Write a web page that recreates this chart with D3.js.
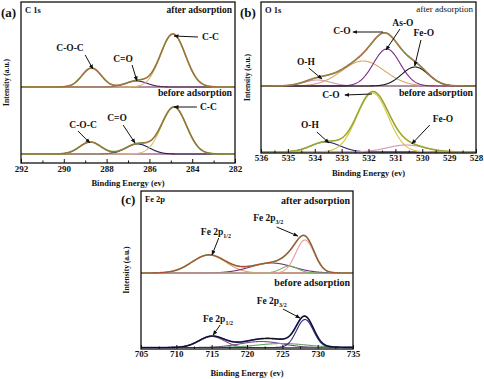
<!DOCTYPE html>
<html><head><meta charset="utf-8">
<script src="https://cdn.jsdelivr.net/npm/d3@7"></script>
<style>
body{margin:0;background:#fff}
svg{display:block}
text{font-family:"Liberation Serif","Times New Roman",serif;font-weight:bold;fill:#111}
</style>
</head><body><svg id="chart" width="484" height="379"></svg>
<script>
// ---------- data (binding energies in eV, intensities in a.u.) ----------
// Panel (a) C 1s
const aTicks = [292, 290, 288, 286, 284, 282];
const aMinor = [291, 289, 287, 285, 283];
const aNames = ["C-O-C", "C=O", "C-C"];
const aAfterOffset = 76;
const aAfterCenters = [288.7, 286.6, 284.9];
const aAfterHeights = [19, 6, 53];
const aAfterWidths = [0.45, 0.5, 0.58];
const aBeforeOffset = 9;
const aBeforeCenters = [288.76, 286.55, 284.85];
const aBeforeHeights = [12, 10, 47];
const aBeforeWidths = [0.5, 0.55, 0.58];

// Panel (b) O 1s
const bTicks = [536, 535, 534, 533, 532, 531, 530, 529, 528];
const bMinor = [535.5, 534.5, 533.5, 532.5, 531.5, 530.5, 529.5, 528.5];
const bAfterNames = ["O-H", "C-O", "As-O", "Fe-O"];
const bAfterOffset = 67;
const bAfterCenters = [533.9, 532.2, 531.32, 530.27];
const bAfterHeights = [6, 25, 37, 19];
const bAfterWidths = [0.5, 0.8, 0.5, 0.5];
const bBeforeNames = ["O-H", "C-O", "Fe-O"];
const bBeforeOffset = 1;
const bBeforeCenters = [533.6, 531.85, 530.6];
const bBeforeHeights = [10, 59, 7];
const bBeforeWidths = [0.55, 0.58, 0.7];

// Panel (c) Fe 2p
const cTicks = [705, 710, 715, 720, 725, 730, 735];
const cMinor = [707.5, 712.5, 717.5, 722.5, 727.5, 732.5];
const cAfterNames = ["Fe 2p1/2", "satellite", "shoulder", "Fe 2p3/2"];
const cAfterOffset = 76;
const cAfterCenters = [714.6, 723.5, 726.0, 728.2];
const cAfterHeights = [18, 10, 7, 33];
const cAfterWidths = [2.4, 3.0, 1.2, 1.3];
const cBeforeNames = ["Fe 2p1/2", "satellite", "background", "Fe 2p3/2"];
const cBeforeOffset = 1.5;
const cBeforeCenters = [715.0, 722.0, 725.0, 728.2];
const cBeforeHeights = [11, 6, 4, 28];
const cBeforeWidths = [1.8, 3.0, 3.5, 1.2];

// ---------- styles ----------
const aAfterColors = ["#c98fa8", "#4e2456", "#d9b46c"];
const aBeforeColors = ["#c98fa8", "#22204e", "#d9c070"];
const bAfterColors = ["#d497b8", "#d8a868", "#7a2a8a", "#1c1c1c"];
const bBeforeColors = ["#2a2a60", "#d8c440", "#d497b8"];
const cAfterColors = ["#e8a060", "#6a3080", "#78b868", "#e89a9a"];
const cBeforeColors = ["#8a4a8a", "#7a4a8a", "#60a860", "#2a2a80"];

const svg = d3.select("#chart");
const defs = svg.append("defs");
defs.append("marker").attr("id", "ah").attr("viewBox", "0 0 10 10")
  .attr("refX", 9).attr("refY", 5).attr("markerWidth", 5).attr("markerHeight", 5)
  .attr("orient", "auto").append("path").attr("d", "M0,1L10,5L0,9Z").attr("fill", "#111");

function gauss(E, c, h, s) { return h * Math.exp(-((E - c) * (E - c)) / (2 * s * s)); }

function spectrum(centers, heights, widths) {
  return { centers, heights, widths };
}

function drawPanel(cfg) {
  const g = svg.append("g");
  const x = d3.scaleLinear().domain(cfg.domain).range([cfg.x0, cfg.x1]);
  const y = d3.scaleLinear().domain([0, cfg.y1 - cfg.y0]).range([cfg.y1, cfg.y0]);
  const lo = Math.min(...cfg.domain), hi = Math.max(...cfg.domain);
  const Es = d3.range(lo, hi + 1e-9, (hi - lo) / 500);
  const line = d3.line().x(d => x(d[0])).y(d => y(d[1]));
  const clipId = "clip" + cfg.id;
  defs.append("clipPath").attr("id", clipId).append("rect")
    .attr("x", cfg.x0).attr("y", cfg.y0).attr("width", cfg.x1 - cfg.x0).attr("height", cfg.y1 - cfg.y0);
  const plot = g.append("g").attr("clip-path", `url(#${clipId})`);

  cfg.spectra.forEach(sp => {
    plot.append("path").attr("d", line(Es.map(E => [E, sp.offset])))
      .attr("fill", "none").attr("stroke", sp.baseColor).attr("stroke-width", 1.1);
    sp.centers.forEach((c, k) => {
      plot.append("path")
        .attr("d", line(Es.map(E => [E, sp.offset + gauss(E, c, sp.heights[k], sp.widths[k])])))
        .attr("fill", "none").attr("stroke", sp.colors[k]).attr("stroke-width", 1.1);
    });
    const sum = Es.map(E => [E, sp.offset + d3.sum(sp.centers, (c, k) => gauss(E, c, sp.heights[k], sp.widths[k]))]);
    const under = sp.rawOnTop ? sp.envColor : sp.rawColor;
    const over = sp.rawOnTop ? sp.rawColor : sp.envColor;
    plot.append("path").attr("d", line(sum)).attr("fill", "none")
      .attr("stroke", under).attr("stroke-width", 1.7);
    plot.append("path").attr("d", line(sum)).attr("fill", "none")
      .attr("stroke", over).attr("stroke-width", sp.rawOnTop ? 1.1 : 0.9);
  });

  g.append("rect").attr("x", cfg.x0).attr("y", cfg.y0)
    .attr("width", cfg.x1 - cfg.x0).attr("height", cfg.y1 - cfg.y0)
    .attr("fill", "none").attr("stroke", "#111").attr("stroke-width", 1.3);

  const ax = g.append("g").attr("transform", `translate(0,${cfg.y1})`)
    .call(d3.axisBottom(x).tickValues(cfg.ticks).tickSize(-4).tickPadding(cfg.pad).tickFormat(d3.format("d")));
  ax.select(".domain").remove();
  ax.selectAll("text").attr("font-size", 9).style("font-family", "Liberation Serif").style("font-weight", "bold").attr("fill", "#111");
  ax.selectAll("line").attr("stroke", "#111");
  const mx = g.append("g").attr("transform", `translate(0,${cfg.y1})`)
    .call(d3.axisBottom(x).tickValues(cfg.minor).tickSize(-2.5).tickFormat(""));
  mx.select(".domain").remove();
  mx.selectAll("line").attr("stroke", "#111");

  g.append("text").attr("x", (cfg.x0 + cfg.x1) / 2).attr("y", cfg.titleY)
    .attr("text-anchor", "middle").attr("font-size", 8.5).text(cfg.xTitle);
  g.append("text").attr("transform", `translate(${cfg.yTitleX},${(cfg.y0 + cfg.y1) / 2}) rotate(-90)`)
    .attr("text-anchor", "middle").attr("font-size", 7.5).text("Intensity (a.u.)");

  g.append("text").attr("x", cfg.letterX).attr("y", cfg.letterY).attr("font-size", 13).text(cfg.letter);
  g.append("text").attr("x", cfg.x0 + 4).attr("y", cfg.y0 + 11).attr("font-size", 8.5).text(cfg.core);

  cfg.states.forEach(s => {
    g.append("text").attr("x", cfg.x1 - 3).attr("y", y(s.i)).attr("text-anchor", "end")
      .attr("font-size", s.size).style("font-weight", s.weight).text(s.t);
  });

  cfg.notes.forEach(n => {
    const t = g.append("text").attr("x", x(n.e)).attr("y", y(n.i))
      .attr("text-anchor", n.anchor || "middle").attr("font-size", 9.5);
    t.append("tspan").text(n.t);
    if (n.sub) t.append("tspan").attr("font-size", 6).attr("dy", 2.5).text(n.sub);
    g.append("line").attr("x1", x(n.from[0])).attr("y1", y(n.from[1]))
      .attr("x2", x(n.to[0])).attr("y2", y(n.to[1]))
      .attr("stroke", "#111").attr("stroke-width", 1).attr("marker-end", "url(#ah)");
  });
}

drawPanel({
  id: "a", domain: [292, 282], x0: 21, x1: 235, y0: 2, y1: 163,
  ticks: aTicks, minor: aMinor, pad: 3, titleY: 186, xTitle: "Binding Energy (ev)", yTitleX: 9,
  letter: "(a)", letterX: 1, letterY: 17, core: "C 1s",
  spectra: [
    Object.assign(spectrum(aAfterCenters, aAfterHeights, aAfterWidths),
      { offset: aAfterOffset, colors: aAfterColors, envColor: "#7aa84a", rawColor: "#b0643c", baseColor: "#3a1c44", rawOnTop: true }),
    Object.assign(spectrum(aBeforeCenters, aBeforeHeights, aBeforeWidths),
      { offset: aBeforeOffset, colors: aBeforeColors, envColor: "#6aa448", rawColor: "#a86a3c", baseColor: "#5a2a6a", rawOnTop: true })
  ],
  states: [{ t: "after adsorption", i: 150, size: 9.5, weight: "bold" },
           { t: "before adsorption", i: 67, size: 9.8, weight: "bold" }],
  notes: [
    { t: aNames[0], e: 289.71, i: 112, from: [289.0, 108], to: [288.64, 94] },
    { t: aNames[1], e: 287.23, i: 101, from: [286.81, 98], to: [286.58, 82] },
    { t: aNames[2], e: 283.54, i: 123, anchor: "start", from: [283.73, 126], to: [284.85, 127] },
    { t: aNames[2], e: 283.64, i: 53, anchor: "start", from: [283.78, 56], to: [284.85, 56] },
    { t: aNames[0], e: 289.1, i: 35, from: [289.34, 32], to: [288.78, 20] },
    { t: aNames[1], e: 287.51, i: 42, from: [287.23, 38], to: [286.67, 20] }
  ]
});

drawPanel({
  id: "b", domain: [536, 528], x0: 261, x1: 476, y0: 2, y1: 153,
  ticks: bTicks, minor: bMinor, pad: 2, titleY: 176, xTitle: "Binding Energy (ev)", yTitleX: 250,
  letter: "(b)", letterX: 240, letterY: 17, core: "O 1s",
  spectra: [
    Object.assign(spectrum(bAfterCenters, bAfterHeights, bAfterWidths),
      { offset: bAfterOffset, colors: bAfterColors, envColor: "#74a84c", rawColor: "#a8603c", baseColor: "#111" }),
    Object.assign(spectrum(bBeforeCenters, bBeforeHeights, bBeforeWidths),
      { offset: bBeforeOffset, colors: bBeforeColors, envColor: "#64a040", rawColor: "#c8b838", baseColor: "#7a3a7a" })
  ],
  states: [{ t: "after adsorption", i: 141, size: 9, weight: "normal" },
           { t: "before adsorption", i: 57, size: 9.8, weight: "bold" }],
  notes: [
    { t: "C-O", e: 532.99, i: 119, from: [531.46, 121], to: [532.58, 121] },
    { t: "As-O", e: 530.72, i: 127, from: [530.83, 124], to: [531.35, 103] },
    { t: "Fe-O", e: 529.94, i: 117, from: [530.05, 113], to: [530.28, 87] },
    { t: "O-H", e: 534.33, i: 88, from: [534.22, 85], to: [533.73, 74] },
    { t: "C-O", e: 533.4, i: 55, from: [531.87, 59], to: [532.88, 58] },
    { t: "O-H", e: 534.18, i: 25, from: [533.92, 21], to: [533.47, 10] },
    { t: "Fe-O", e: 529.23, i: 31, from: [529.72, 28], to: [530.39, 9] }
  ]
});

drawPanel({
  id: "c", domain: [705, 735], x0: 141, x1: 353, y0: 191, y1: 349,
  ticks: cTicks, minor: cMinor, pad: 2, titleY: 376, xTitle: "Binding  Energy (ev)", yTitleX: 129,
  letter: "(c)", letterX: 121, letterY: 204, core: "Fe 2p",
  spectra: [
    Object.assign(spectrum(cAfterCenters, cAfterHeights, cAfterWidths),
      { offset: cAfterOffset, colors: cAfterColors, envColor: "#78ac5c", rawColor: "#b04a3a", baseColor: "#4a2060", rawOnTop: true }),
    Object.assign(spectrum(cBeforeCenters, cBeforeHeights, cBeforeWidths),
      { offset: cBeforeOffset, colors: cBeforeColors, envColor: "#3a3aa0", rawColor: "#111", baseColor: "#4a8a6a", rawOnTop: true })
  ],
  states: [{ t: "after adsorption", i: 145, size: 10, weight: "bold" },
           { t: "before adsorption", i: 63, size: 10, weight: "bold" }],
  notes: [
    { t: "Fe 2p", sub: "1/2", e: 715.6, i: 114, from: [716.0, 111], to: [715.05, 94] },
    { t: "Fe 2p", sub: "3/2", e: 723.0, i: 128, from: [724.2, 122], to: [727.2, 113] },
    { t: "Fe 2p", sub: "1/2", e: 715.9, i: 27, from: [716.2, 24], to: [715.2, 14] },
    { t: "Fe 2p", sub: "3/2", e: 723.5, i: 45, from: [725.1, 40], to: [727.5, 31] }
  ]
});
</script></body></html>
